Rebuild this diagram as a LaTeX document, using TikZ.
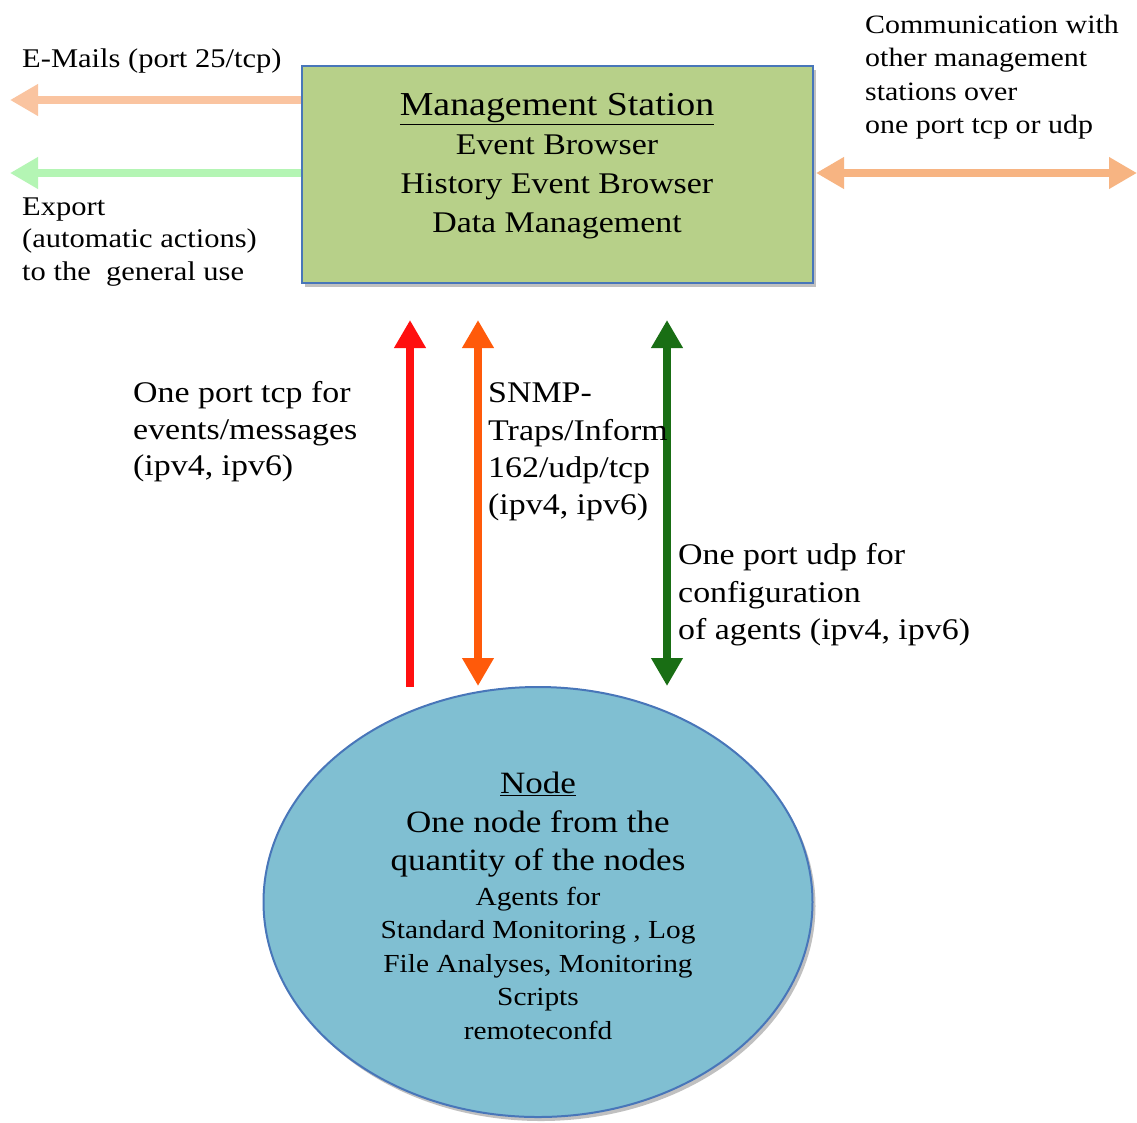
\documentclass[tikz,border=0pt]{standalone}
\usepackage{fontspec}
\setmainfont{Liberation Serif}[FakeStretch=1.13]
\usetikzlibrary{arrows.meta,shadows,shapes.geometric}
\definecolor{boxgreen}{RGB}{183,208,137}
\definecolor{boxblue}{RGB}{72,118,185}
\definecolor{nodeblue}{RGB}{128,191,210}
\definecolor{lorange}{RGB}{250,196,160}
\definecolor{rorange}{RGB}{247,180,130}
\definecolor{lgreen}{RGB}{180,245,180}
\definecolor{aorange}{RGB}{255,90,10}
\definecolor{dgreen}{RGB}{25,110,20}
\definecolor{ared}{RGB}{255,15,15}
\newcommand{\bigln}{\fontsize{31}{38.5}\selectfont}
\newcommand{\smln}{\fontsize{26}{33.5}\selectfont}
\tikzset{
  shade3/.style={drop shadow={shadow xshift=3pt,shadow yshift=-4pt,opacity=0.35,fill=black!70}},
  stationbox/.style={draw=boxblue,line width=2pt,fill=boxgreen,minimum width=511pt,minimum height=217pt,inner sep=0pt,shade3},
  nodeell/.style={ellipse,draw=boxblue,line width=2pt,fill=nodeblue,minimum width=549pt,minimum height=430pt,inner sep=0pt,shade3},
  fatarrow/.style={line width=7.5pt,-{Triangle[length=28pt,width=30pt]}},
  fatboth/.style={line width=7.5pt,{Triangle[length=28pt,width=30pt]}-{Triangle[length=28pt,width=30pt]}},
  lbl/.style={inner sep=0pt,align=left,anchor=west},
  ctr/.style={inner sep=0pt,align=center}
}
\begin{document}
\begin{tikzpicture}[x=1pt,y=-1pt]
\useasboundingbox[fill=white] (0,0) rectangle (1137,1122);

% main shapes
\node[stationbox] (ms) at (557.5,174.5) {};
\node[nodeell] (nd) at (538,902) {};

% box text
\node[ctr,font=\fontsize{30}{39}\selectfont] (mstext) at (557,166)
  {\fontsize{33.5}{39}\selectfont\underline{Management Station}\\Event Browser\\History Event Browser\\Data Management};

% ellipse text
\node[ctr,font=\bigln] (ndtext) at (538,906) {%
  \bigln\underline{Node}\\\bigln One node from the\\\bigln quantity of the nodes\\[-4pt]
  \smln Agents for\\[-5pt]\smln Standard Monitoring , Log\\[-5pt]\smln File Analyses, Monitoring\\[-5pt]\smln Scripts\\[-5pt]\smln remoteconfd};

% coordinates for connector ends
\coordinate (emailend) at (10,100);
\coordinate (exportend) at (10,173);
\coordinate (commend) at (1137,173);
\coordinate (redtop) at (410,320);
\coordinate (redbot) at (410,687);
\coordinate (ortop) at (478,320);
\coordinate (orbot) at (478,686);
\coordinate (grtop) at (667,320);
\coordinate (grbot) at (667,686);

% connectors
\draw[fatarrow,lorange] (ms.west |- emailend) -- (emailend);
\draw[fatarrow,lgreen] (ms.west |- exportend) -- (exportend);
\draw[fatboth,rorange] (ms.east |- commend) ++(2,0) -- (commend);
\draw[fatarrow,ared] (redbot) -- (redtop);
\draw[fatboth,aorange] (orbot) -- (ortop);
\draw[fatboth,dgreen] (grbot) -- (grtop);

% labels
\node[lbl,font=\fontsize{27}{33}\selectfont] (emaillbl) at (22,61) {E-Mails (port 25/tcp)};
\node[lbl,font=\fontsize{27}{32.5}\selectfont] (exportlbl) at (22,242) {Export\\(automatic actions)\\to the\ \ general use};
\node[lbl,font=\fontsize{26.5}{33.3}\selectfont] (commlbl) at (865,77) {Communication with\\other management\\stations over\\one port tcp or udp};
\node[lbl,font=\fontsize{30}{36.5}\selectfont] (tcplbl) at (133,432) {One port tcp for\\events/messages\\(ipv4, ipv6)};
\node[lbl,font=\fontsize{30}{37.3}\selectfont] (snmplbl) at (488,452) {SNMP-\\Traps/Inform\\162/udp/tcp\\(ipv4, ipv6)};
\node[lbl,font=\fontsize{30}{37.5}\selectfont] (udplbl) at (678,595) {One port udp for\\configuration\\of agents (ipv4, ipv6)};
\end{tikzpicture}
\end{document}
